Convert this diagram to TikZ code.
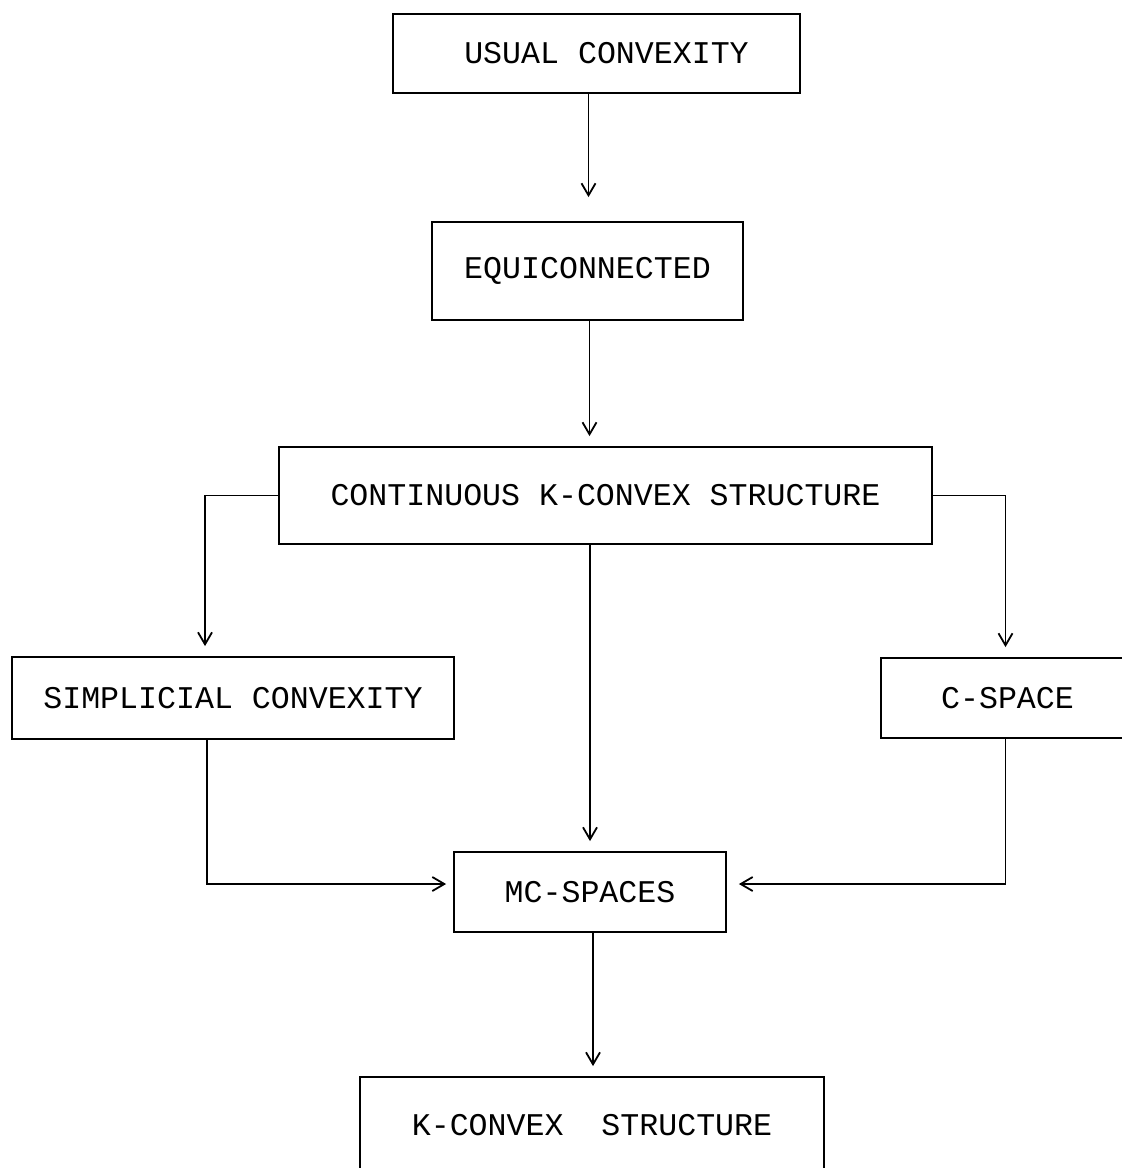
\documentclass[tikz,border=0pt]{standalone}
\usepackage{fontspec}
\newfontfamily\boxfont{Liberation Mono}
\usetikzlibrary{arrows.meta}

\tikzset{
  block/.style={draw, line width=0.9pt, inner sep=0pt,
    font=\boxfont\fontsize{15.8}{19}\selectfont},
  flow/.style={line width=0.9pt, -{Straight Barb[length=6pt,width=7pt]}, shorten >=5pt}
}

\begin{document}
\begin{tikzpicture}[x=0.5pt, y=-0.5pt, line cap=round]
  \useasboundingbox (0,0) rectangle (1121,1168);

  % Boxes
  \node[block, minimum width=203.5pt, minimum height=39.5pt] (usual) at (596.5,53.5) {\hspace{10pt}USUAL CONVEXITY};
  \node[block, minimum width=155.5pt, minimum height=49pt] (equi) at (587.5,271) {EQUICONNECTED};
  \node[block, minimum width=326.5pt, minimum height=48.5pt] (cont) at (605.5,495.5) {CONTINUOUS K-CONVEX STRUCTURE};
  \node[block, minimum width=221pt, minimum height=41pt] (simp) at (233,698) {SIMPLICIAL CONVEXITY};
  \node[block, minimum width=126.5pt, minimum height=40pt] (cspace) at (1007.5,698) {C-SPACE};
  \node[block, minimum width=136pt, minimum height=40pt] (mc) at (590,892) {MC-SPACES};
  \node[block, minimum width=232pt, minimum height=48pt] (kconv) at (592,1125) {K-CONVEX~~STRUCTURE};

  % Arrows
  \draw[flow, shorten >=12pt] ([xshift=-4pt]usual.south) -- ([xshift=-4pt]usual.south |- equi.north);
  \draw[flow] ([xshift=1pt]equi.south) -- ([xshift=1pt]equi.south |- cont.north);
  \draw[flow] (cont.west) -| ([xshift=-14pt]simp.north);
  \draw[flow] (cont.east) -| ([xshift=-1pt]cspace.north);
  \draw[flow] (cont.south -| mc.north) -- (mc.north);
  \draw[flow, shorten >=3.5pt] ([xshift=-13pt]simp.south) |- ([yshift=4pt]mc.west);
  \draw[flow, shorten >=6pt] ([xshift=-1pt]cspace.south) |- ([yshift=4pt]mc.east);
  \draw[flow] ([xshift=1.5pt]mc.south) -- ([xshift=1.5pt]mc.south |- kconv.north);
\end{tikzpicture}
\end{document}
